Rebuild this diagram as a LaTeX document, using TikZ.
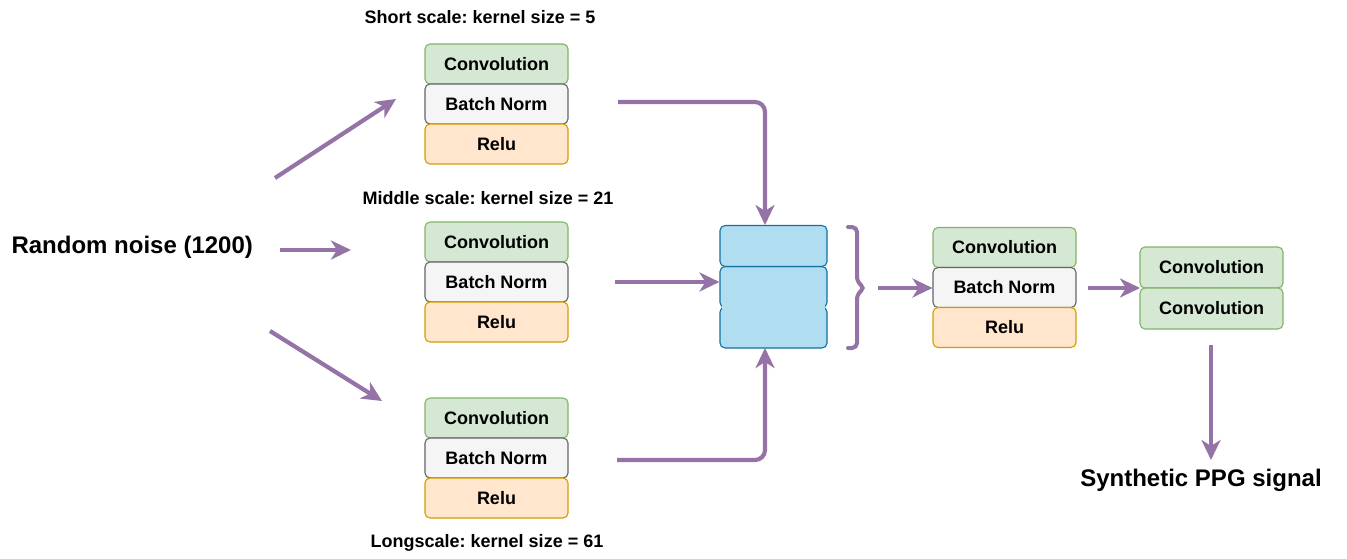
\documentclass[tikz,border=0pt]{standalone}
\usepackage{fontspec}
\setmainfont{Liberation Sans}
\usetikzlibrary{arrows.meta,calc}
\definecolor{convfill}{HTML}{D5E8D4}
\definecolor{convline}{HTML}{82B366}
\definecolor{normfill}{HTML}{F5F5F5}
\definecolor{normline}{HTML}{666666}
\definecolor{relufill}{HTML}{FFE6CC}
\definecolor{reluline}{HTML}{D79B00}
\definecolor{catfill}{HTML}{B1DDF0}
\definecolor{catline}{HTML}{10739E}
\definecolor{flowc}{HTML}{9673A6}
\frenchspacing
\begin{document}
\begin{tikzpicture}[x=1pt,y=-1pt,
  layer/.style={draw, rounded corners=5pt, line width=1.1pt, minimum width=143pt,
    minimum height=40pt, inner sep=0pt, font=\bfseries\fontsize{18}{21}\selectfont},
  conv/.style={layer, fill=convfill, draw=convline},
  norm/.style={layer, fill=normfill, draw=normline},
  relu/.style={layer, fill=relufill, draw=reluline},
  slab/.style={draw=catline, fill=catfill, rounded corners=5pt, line width=1.1pt,
    minimum width=107pt, minimum height=41pt, inner sep=0pt},
  flow/.style={draw=flowc, line width=4.2pt, rounded corners=10pt,
    -{Stealth[length=20pt,width=19pt,inset=6pt]}},
  tag/.style={font=\bfseries\fontsize{18}{21}\selectfont},
  big/.style={font=\bfseries\fontsize{24}{28}\selectfont}
]
\useasboundingbox (0,0) rectangle (1347,559);

% input and output texts
\node[big, anchor=west] (noise) at (8,247) {Random noise (1200)};
\node[big] (ppg) at (1201,480) {Synthetic PPG signal};

% three parallel branches
\node[tag] (lshort) at (480,17) {Short scale: kernel size = 5};
\node[conv] (c1) at (496.5,64) {Convolution};
\node[norm] (b1) at (496.5,104) {Batch Norm};
\node[relu] (r1) at (496.5,144) {Relu};

\node[tag] (lmid) at (488,198) {Middle scale: kernel size = 21};
\node[conv] (c2) at (496.5,242) {Convolution};
\node[norm] (b2) at (496.5,282) {Batch Norm};
\node[relu] (r2) at (496.5,322) {Relu};

\node[conv] (c3) at (496.5,418) {Convolution};
\node[norm] (b3) at (496.5,458) {Batch Norm};
\node[relu] (r3) at (496.5,498) {Relu};
\node[tag] (llong) at (487,543) {Longscale: kernel size = 61};

% concatenated feature maps; the lower seam is hidden under the fill
\node[slab] (cat3) at (773.5,327.5) {};
\node[slab] (cat2) at (773.5,287) {};
\node[slab] (cat1) at (773.5,246) {};
\fill[catfill] ($(cat2.south west)+(2.5,-4)$) rectangle ($(cat3.north east)+(-2.5,4)$);

% merged block
\node[conv] (c4) at (1004.5,247.5) {Convolution};
\node[norm] (b4) at (1004.5,287.5) {Batch Norm};
\node[relu] (r4) at (1004.5,327.5) {Relu};

% output convolutions
\node[conv, minimum height=41pt] (c5) at (1211.5,267.5) {Convolution};
\node[conv, minimum height=41pt] (c6) at (1211.5,308.5) {Convolution};

% free ends of the connectors
\coordinate (n1) at (275,178);
\coordinate (t1) at (396,99);
\coordinate (n2) at (280,250);
\coordinate (t2) at (351,250);
\coordinate (n3) at (270,331);
\coordinate (t3) at (382,401);
\coordinate (s1) at (618,102);
\coordinate (s2) at (615,282);
\coordinate (s3) at (617,460);
\coordinate (k1) at (765,225);
\coordinate (k3) at (765,348);
\coordinate (br) at (878,288);
\coordinate (m4) at (1088,288);
\coordinate (m5) at (1140,288);
\coordinate (d5) at (1211,345);
\coordinate (d6) at (1211,460);

% brace grouping the feature maps
\draw[flowc, line width=4pt, line cap=round, rounded corners=5pt]
  (848,227) -- (857,227) -- (857,282) -- (865,288) -- (857,294) -- (857,348) -- (848,348);

% connectors
\draw[flow] (n1) -- (t1);
\draw[flow] (n2) -- (t2);
\draw[flow] (n3) -- (t3);
\draw[flow] (s1) -| (k1);
\draw[flow] (s2) -- (s2 -| cat2.west);
\draw[flow] (s3) -| (k3);
\draw[flow] (br) -- (br -| b4.west);
\draw[flow] (m4) -- (m5);
\draw[flow] (d5) -- (d6);
\end{tikzpicture}
\end{document}
